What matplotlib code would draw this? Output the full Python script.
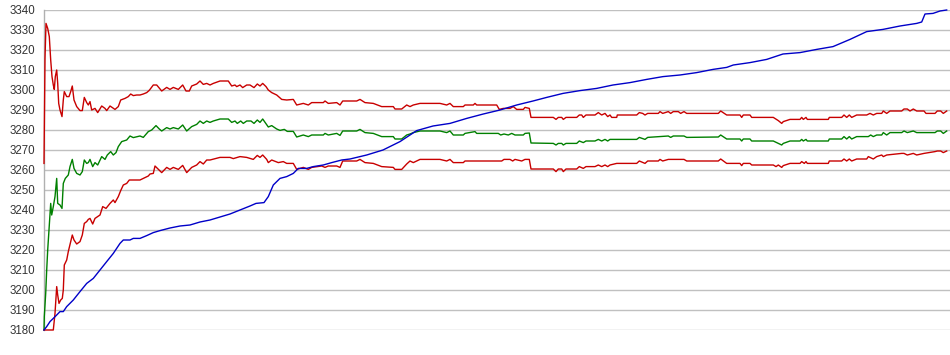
import matplotlib
matplotlib.use("Agg")
import matplotlib.pyplot as plt
import numpy as np

# x = sample position, y = value
upper_x = [0, 1, 2, 3.7, 5.3, 6.7, 8, 9.3, 10.3, 11.3, 12.7, 13.7, 14.7, 16, 18, 19.3, 20.3, 22.7, 25, 26.7,
           28.3, 30, 32.7, 36, 38.3, 40.3, 42.7, 44.3, 46, 47.7, 51, 53.7, 57.7, 61, 62.7, 66, 71, 74.3, 76.7, 81,
           84.3, 86.7, 89.3, 92.7, 96, 99.3, 102.7, 105, 106, 109.3, 112.7, 117.7, 122.7, 126, 129.3, 134.3, 138.7,
           142, 145.3, 147.7, 152.7, 156, 159.3, 162.7, 166, 169.3, 176, 184.3, 187.7, 191, 192.7, 196, 198.7,
           202.7, 206, 210, 213.3, 216, 218.7, 222, 224.3, 227.7, 232.7, 237.7, 242.7, 249.3, 252.7, 259.3, 264.3,
           267.7, 279.3, 281, 284.3, 292.7, 296, 298.7, 312.7, 316, 321, 329.3, 337.7, 349.3, 351, 357.7, 362.7,
           366, 369.3, 376, 396, 402.7, 406, 409.3, 419.3, 421, 429.3, 431, 432.7, 452.7, 455.3, 459.3, 466, 469.3,
           472.7, 479.3, 481, 485.3, 487, 509.3, 512, 514.3, 517.7, 519.3, 522, 532.7, 535.3, 537.7, 539.3, 542,
           551, 554.3, 557.7, 561, 563.7, 566, 567.7, 572.7, 573.3, 592.7, 595.3, 598.7, 601, 603.7, 614.3, 616,
           618.7, 624.3, 626.7, 629.3, 634.3, 636.7, 640, 642.7, 674.3, 676.7, 682.7, 696, 697.7, 699.3, 706, 707.7,
           729.3, 734.3, 737.7, 739.3, 746, 756, 757.7, 759.3, 762, 763.3, 784.3, 785.3, 797.7, 800, 802.7, 805.3,
           807.7, 812.7, 822.7, 826, 829.3, 832.7, 837.7, 839.3, 842.7, 846, 857.7, 860, 863.3, 866, 869.3, 872.7,
           880, 882, 891, 893.3, 896.7, 899.3, 902.7]
upper_y = [3263.3, 3315.8, 3333.3, 3330.8, 3326.7, 3315, 3306.7, 3302.5, 3300.3, 3306.7, 3310, 3303.3, 3293.3,
           3290, 3286.7, 3295, 3299.2, 3296.7, 3296.7, 3299.2, 3302, 3295, 3291.7, 3289.7, 3289.7, 3296.3, 3293.7,
           3292.5, 3294.2, 3290, 3290.8, 3288.7, 3292, 3290.8, 3289.7, 3292, 3290.3, 3291.7, 3295, 3295.8, 3296.7,
           3298, 3297.2, 3297.5, 3297.5, 3298, 3298.7, 3299.7, 3300.3, 3302.5, 3302.5, 3299.5, 3301.3, 3300.3,
           3301.3, 3300.3, 3302.5, 3299.5, 3299.5, 3302, 3303, 3304.5, 3302.8, 3303.3, 3302.5, 3303.3, 3304.5,
           3304.5, 3302, 3302.5, 3301.7, 3302.5, 3301.2, 3302.5, 3302.5, 3301.2, 3303, 3302, 3303.3, 3301.7, 3300,
           3298.7, 3297.5, 3295.3, 3295, 3295.3, 3292.5, 3293.3, 3292.5, 3293.7, 3293.7, 3294.5, 3293.3, 3293.7,
           3292.5, 3294.5, 3294.5, 3295.3, 3293.7, 3293.3, 3291.7, 3291.7, 3290.5, 3290.5, 3292.5, 3291.7, 3292.5,
           3293.3, 3293.3, 3292.5, 3293.3, 3291.7, 3291.7, 3292.5, 3292.5, 3293.3, 3292.5, 3292.5, 3290.3, 3290.8,
           3290.8, 3291.7, 3290.3, 3290.3, 3291.3, 3290.8, 3286.3, 3286.3, 3285.3, 3286.3, 3286.3, 3285.3, 3286.3,
           3286.3, 3287.5, 3287.5, 3286.3, 3287.5, 3287.5, 3288.7, 3287.5, 3288.3, 3286.7, 3287.5, 3286.3, 3286.3,
           3287.5, 3287.5, 3288.7, 3288.3, 3287.5, 3288.3, 3288.3, 3289.2, 3288.3, 3289.2, 3288.3, 3289.2, 3289.2,
           3288.3, 3289.2, 3288.3, 3288.3, 3289.5, 3287.5, 3287.5, 3286.3, 3287.5, 3287.5, 3286.3, 3286.3, 3284.7,
           3283.3, 3284.2, 3285.3, 3285.3, 3286.3, 3285.3, 3286.3, 3285.3, 3285.3, 3286.3, 3286.3, 3287.5, 3286.3,
           3287.5, 3286.3, 3287.5, 3287.5, 3288.3, 3287.5, 3288.3, 3288.3, 3289.5, 3288.3, 3289.5, 3289.5, 3290.5,
           3290.5, 3289.5, 3290.5, 3289.5, 3289.5, 3288.3, 3288.3, 3289.5, 3289.5, 3288.3, 3289.5]

middle_x = [0, 0.3, 1.7, 2.7, 3.7, 5, 6, 6.7, 7.7, 9.3, 11, 12.7, 13.7, 16, 18, 19.3, 21.3, 24.3, 26, 28.3, 30,
            32.7, 36, 38.3, 40.3, 42.7, 44.3, 46, 48.7, 51, 53.7, 57.7, 61, 63.3, 66.7, 69.3, 72, 74.3, 77.7, 82.7,
            86, 89.3, 96, 99.3, 104.3, 107.7, 112, 115.3, 117.7, 122.7, 126, 129.3, 134.3, 138.7, 142.7, 147.7,
            152.7, 156, 159.3, 162.7, 166, 169.3, 176, 184.3, 187.7, 191, 193.3, 196.7, 199.3, 202.7, 207, 210,
            213.3, 216, 218.7, 224.3, 227.7, 232.7, 236, 240.3, 243.3, 249.3, 252.7, 259.3, 264.3, 267.7, 279.3,
            281, 284.3, 292.7, 296, 298.7, 312.7, 316, 321, 329.3, 337.7, 349.3, 351, 357.7, 362.7, 366, 369.3,
            376, 396, 402.7, 406, 409.3, 419.3, 421, 431, 432.7, 454.3, 456.7, 460, 464.3, 467.7, 471, 479.3, 481,
            485.3, 487, 509.3, 512, 514.3, 517.7, 519.3, 522, 532.7, 535.3, 539.3, 542, 551, 554.3, 557.7, 561,
            563.7, 566, 592.7, 595.3, 601, 603.7, 624.3, 626.7, 629.3, 640, 642.7, 674.3, 676.7, 682.7, 696, 697.7,
            699.3, 706, 707.7, 729.3, 734.3, 737.7, 739.3, 746, 756, 757.7, 759.3, 762, 763.3, 784.3, 785.3, 797.7,
            800, 802.7, 805.3, 807.7, 812.7, 824.3, 826.7, 829.3, 832.7, 837.7, 839.3, 842.7, 846, 857.7, 860,
            863.3, 869.3, 872.7, 891, 893.3, 896.7, 899.3, 902.7]
middle_y = [3180, 3186.7, 3198.3, 3210, 3220, 3230, 3238.3, 3243.3, 3237.5, 3241.7, 3246.7, 3255.8, 3243.3,
            3242.5, 3240.8, 3253.3, 3255.8, 3257.5, 3261.7, 3265.3, 3260.8, 3258.3, 3257.5, 3259.2, 3265, 3263.3,
            3263.7, 3265.3, 3261.7, 3263.7, 3262.5, 3266.7, 3265.3, 3267.5, 3269.2, 3267.5, 3268.7, 3271.7, 3274.2,
            3275, 3277, 3276.2, 3277, 3276.3, 3279.2, 3280, 3282.2, 3280.5, 3279.5, 3281.2, 3280.5, 3281.2, 3280.5,
            3282.5, 3279.5, 3281.7, 3282.8, 3284.5, 3283.3, 3284.5, 3283.8, 3284.5, 3285.5, 3285.5, 3283.8, 3284.5,
            3283.3, 3284.5, 3283.3, 3284.5, 3284.5, 3283.3, 3285, 3283.8, 3285.5, 3281.5, 3282.2, 3280.5, 3279.8,
            3280.3, 3279.3, 3279.3, 3276.5, 3277.5, 3276.7, 3277.5, 3277.5, 3278.3, 3277.5, 3278.3, 3277.3, 3279.5,
            3279.5, 3280.3, 3278.7, 3278.3, 3276.7, 3276.7, 3275.5, 3275.5, 3277.5, 3278, 3278.7, 3279.5, 3279.5,
            3278.7, 3279.5, 3277.5, 3277.5, 3278.3, 3279.2, 3278.3, 3278.3, 3277.5, 3278, 3277.5, 3278.3, 3277.5,
            3277.5, 3278.3, 3278.5, 3273.5, 3273.3, 3272.5, 3273.3, 3273.3, 3272.5, 3273.3, 3273.3, 3274.5, 3273.7,
            3274.5, 3274.5, 3275.3, 3274.5, 3275.3, 3274.5, 3275.3, 3275.3, 3276.3, 3275.3, 3276.3, 3277, 3276.3,
            3277, 3277, 3276.3, 3276.5, 3277.5, 3275.5, 3275.5, 3274.5, 3275.5, 3275.5, 3274.5, 3274.5, 3273.3,
            3272.5, 3273.3, 3274.5, 3274.5, 3275.3, 3274.5, 3275.3, 3274.5, 3274.5, 3275.5, 3275.5, 3276.7, 3275.5,
            3276.7, 3275.5, 3276.7, 3276.7, 3277.5, 3276.7, 3277.5, 3277.5, 3278.7, 3277.5, 3278.7, 3278.7, 3279.5,
            3278.7, 3279.5, 3278.7, 3278.7, 3279.5, 3279.5, 3278.3, 3279.5]

lower_x = [0, 9.3, 11, 12.7, 13.7, 15, 16.7, 18.3, 19.3, 20.3, 22.7, 24.3, 26.7, 28.3, 30, 32.7, 36, 38.3, 40.3,
           42.7, 44.3, 46, 48.7, 51, 53.7, 56, 58.7, 62, 66, 69.3, 71, 74.3, 76.7, 79.3, 82.7, 85.3, 96, 99.3,
           104.3, 106, 109.3, 111, 117.7, 122.7, 126, 129.3, 134.3, 138.7, 142.7, 147.7, 152.7, 156, 159.3, 162.7,
           166, 176, 186, 189.3, 196, 202.7, 209.3, 213.3, 216, 218.7, 222.7, 224.3, 227.7, 234.3, 239.3, 242.7,
           249.3, 252.7, 259.3, 264.3, 267.7, 277.7, 281, 284.3, 292.7, 296, 298.7, 312.7, 316, 321, 329.3, 337.7,
           349.3, 351, 357.7, 362.7, 366, 369.3, 376, 396, 402.7, 406, 409.3, 419.3, 421, 457.7, 460, 466, 468.7,
           471, 477.7, 481, 485.3, 487, 509.3, 512, 514.3, 517.7, 519.3, 522, 532.7, 535.3, 539.3, 542, 551, 554.3,
           557.7, 561, 563.7, 566, 572.7, 592.7, 595.3, 601, 603.7, 614.3, 616, 618.7, 624.3, 640, 642.7, 674.3,
           676.7, 682.7, 696, 697.7, 699.3, 706, 707.7, 729.3, 732, 734.3, 737.7, 739.3, 746, 756, 757.7, 760.3,
           762, 763.3, 784.3, 785.3, 797.7, 800, 802.7, 805.3, 807.7, 812.7, 822.7, 824.3, 829.3, 832.7, 837.7,
           839.3, 842.7, 857.7, 860, 863.3, 869.3, 872.7, 880, 891, 893.3, 896.7, 899.3, 902.7]
lower_y = [3180, 3180, 3188.3, 3201.7, 3197.5, 3193.3, 3195, 3195.8, 3200, 3212.5, 3215, 3219.2, 3224.2, 3227.5,
           3225, 3223, 3224.2, 3227.5, 3233.3, 3234.2, 3235.3, 3235.8, 3233, 3235.8, 3236.7, 3237.5, 3241.7,
           3240.8, 3243.3, 3245, 3243.7, 3246.7, 3249.7, 3252.5, 3253.3, 3255, 3255, 3255.8, 3257, 3258, 3258.3,
           3262, 3258.7, 3261.3, 3260.3, 3261.3, 3260.3, 3262.3, 3258.7, 3261.3, 3262.5, 3264.2, 3263, 3265, 3265,
           3266.3, 3266.3, 3265.7, 3266.7, 3266.3, 3265.3, 3267.3, 3266.3, 3267.5, 3265.3, 3263.7, 3265, 3263.7,
           3264.2, 3263.3, 3263.3, 3260.3, 3261.3, 3260.3, 3261.3, 3262, 3261.3, 3262, 3262, 3261.3, 3264.5,
           3264.5, 3265.3, 3263.7, 3263.3, 3261.7, 3261.3, 3260.3, 3260.3, 3263, 3264.5, 3263.7, 3265.3, 3265.3,
           3264.5, 3265.3, 3263.7, 3263.7, 3264.5, 3264.5, 3265.3, 3265.3, 3264.5, 3265.3, 3264.5, 3265.3, 3265.3,
           3260.5, 3260.5, 3259.2, 3260.5, 3260.5, 3259.2, 3260.5, 3260.5, 3261.7, 3260.8, 3261.7, 3261.7, 3262.5,
           3261.7, 3262.5, 3261.7, 3262.5, 3263.3, 3263.3, 3264.5, 3263.3, 3264.5, 3264.5, 3265.3, 3264.5, 3265.3,
           3265.3, 3264.5, 3264.5, 3265.5, 3263.3, 3263.3, 3262.2, 3263.3, 3263.3, 3262.5, 3262.5, 3261.7, 3262.5,
           3261.3, 3262.2, 3263.3, 3263.3, 3264.2, 3263.3, 3264.2, 3263.3, 3263.3, 3264.5, 3264.5, 3265.5, 3264.5,
           3265.5, 3264.5, 3265.5, 3265.5, 3266.7, 3265.5, 3266.7, 3267.5, 3266.7, 3267.5, 3268.3, 3268.3, 3267.5,
           3268.3, 3267.5, 3268.3, 3269.2, 3269.5, 3269.5, 3268.7, 3269.5]

rising_x = [0, 2.7, 6, 9.3, 12.7, 16, 19.3, 22.7, 29.3, 36, 42.7, 49.3, 56, 62.7, 69.3, 76, 79.3, 86, 89.3, 96,
            102.7, 109.3, 116, 126, 136, 146, 156, 166, 176, 186, 196, 206, 212, 220, 224.3, 229.3, 236, 242.7,
            249.3, 254.3, 262.7, 269.3, 279.3, 287.7, 297.7, 306, 322.7, 339, 356, 366, 372.7, 389, 406, 422.7,
            439.3, 456, 472.7, 489, 502.7, 519, 536, 552.7, 569, 586, 602.7, 619, 636, 652.7, 669, 682.7, 689.3,
            706, 722.7, 739, 756, 772.7, 789, 806, 822.7, 839, 856, 872.7, 877.7, 881, 889, 896, 902.7]
rising_y = [3180, 3181.7, 3184.2, 3185.8, 3187.5, 3189.2, 3189.2, 3191.7, 3195, 3199.2, 3203.3, 3205.8, 3210,
            3214.2, 3218.3, 3223.3, 3225, 3225, 3225.8, 3225.8, 3227.2, 3228.7, 3229.7, 3231, 3232, 3232.5, 3234,
            3235, 3236.5, 3238, 3240, 3242, 3243.3, 3243.7, 3246.7, 3252.5, 3255.8, 3256.7, 3258.3, 3260.8, 3260.8,
            3261.7, 3262.5, 3263.7, 3265, 3265.5, 3267.5, 3270, 3274.2, 3277.5, 3279.7, 3282, 3283.3, 3285.8, 3288,
            3290, 3292.5, 3294.5, 3296.3, 3298.3, 3299.7, 3300.8, 3302.5, 3303.7, 3305.3, 3306.7, 3307.5, 3308.7,
            3310.3, 3311.3, 3312.5, 3313.7, 3315.3, 3318, 3318.7, 3320.3, 3321.7, 3325.3, 3329.2, 3330.3, 3332,
            3333.3, 3334, 3338, 3338.3, 3339.5, 3340]

y_ticks = np.arange(3180, 3341, 10)

plt.rcParams["font.family"] = ["Liberation Sans", "DejaVu Sans"]

figure = plt.figure(figsize=(9.5, 3.55), dpi=100)
axis = figure.add_axes([44 / 950, 25 / 355, 906 / 950, 320 / 355])

series = [
    (upper_x, upper_y, "#c80000"),
    (middle_x, middle_y, "#008000"),
    (lower_x, lower_y, "#c80000"),
    (rising_x, rising_y, "#0000c8"),
]
for xs, ys, color in series:
    axis.plot(xs, ys, color=color, linewidth=1.0, clip_on=False, zorder=3)

axis.set_xlim(0, 906)
axis.set_ylim(3180, 3340)
axis.set_yticks(y_ticks)
axis.set_xticks([])
axis.grid(axis="y", color="#c0c0c0", linewidth=1.0)
axis.set_axisbelow(True)
for side in ["top", "right", "bottom"]:
    axis.spines[side].set_visible(False)
axis.spines["left"].set_color("#b0b0b0")
axis.spines["left"].set_linewidth(1.0)
axis.tick_params(axis="y", length=0, pad=6, labelsize=8.3, labelcolor="#333333")

figure.savefig("out.png", dpi=100)
